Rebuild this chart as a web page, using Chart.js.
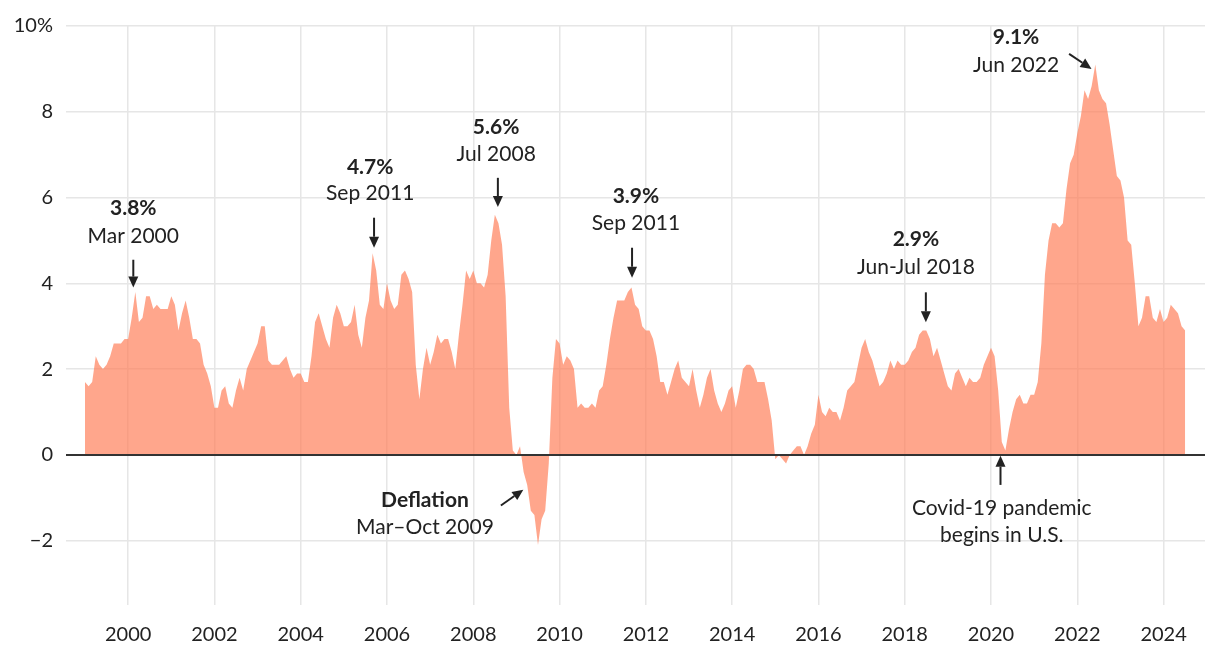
<!DOCTYPE html>
<html>
<head>
<meta charset="utf-8">
<script src="https://cdn.jsdelivr.net/npm/chart.js@4"></script>
<style>
  html, body { margin: 0; padding: 0; background: #ffffff; }
  #wrap { width: 1220px; height: 658px; position: relative; }
</style>
</head>
<body>
<div id="wrap"><canvas id="c" width="1220" height="658"></canvas></div>
<script>
// ---- DATA: US CPI, 12-month % change, monthly, Jan 1999 – Jul 2024 ----
const startYear = 1999;
const cpi1999 = [1.7, 1.6, 1.7, 2.3, 2.1, 2.0, 2.1, 2.3, 2.6, 2.6, 2.6, 2.7];
const cpi2000 = [2.7, 3.2, 3.8, 3.1, 3.2, 3.7, 3.7, 3.4, 3.5, 3.4, 3.4, 3.4];
const cpi2001 = [3.7, 3.5, 2.9, 3.3, 3.6, 3.2, 2.7, 2.7, 2.6, 2.1, 1.9, 1.6];
const cpi2002 = [1.1, 1.1, 1.5, 1.6, 1.2, 1.1, 1.5, 1.8, 1.5, 2.0, 2.2, 2.4];
const cpi2003 = [2.6, 3.0, 3.0, 2.2, 2.1, 2.1, 2.1, 2.2, 2.3, 2.0, 1.8, 1.9];
const cpi2004 = [1.9, 1.7, 1.7, 2.3, 3.1, 3.3, 3.0, 2.7, 2.5, 3.2, 3.5, 3.3];
const cpi2005 = [3.0, 3.0, 3.1, 3.5, 2.8, 2.5, 3.2, 3.6, 4.7, 4.3, 3.5, 3.4];
const cpi2006 = [4.0, 3.6, 3.4, 3.5, 4.2, 4.3, 4.1, 3.8, 2.1, 1.3, 2.0, 2.5];
const cpi2007 = [2.1, 2.4, 2.8, 2.6, 2.7, 2.7, 2.4, 2.0, 2.8, 3.5, 4.3, 4.1];
const cpi2008 = [4.3, 4.0, 4.0, 3.9, 4.2, 5.0, 5.6, 5.4, 4.9, 3.7, 1.1, 0.1];
const cpi2009 = [0.0, 0.2, -0.4, -0.7, -1.3, -1.4, -2.1, -1.5, -1.3, -0.2, 1.8, 2.7];
const cpi2010 = [2.6, 2.1, 2.3, 2.2, 2.0, 1.1, 1.2, 1.1, 1.1, 1.2, 1.1, 1.5];
const cpi2011 = [1.6, 2.1, 2.7, 3.2, 3.6, 3.6, 3.6, 3.8, 3.9, 3.5, 3.4, 3.0];
const cpi2012 = [2.9, 2.9, 2.7, 2.3, 1.7, 1.7, 1.4, 1.7, 2.0, 2.2, 1.8, 1.7];
const cpi2013 = [1.6, 2.0, 1.5, 1.1, 1.4, 1.8, 2.0, 1.5, 1.2, 1.0, 1.2, 1.5];
const cpi2014 = [1.6, 1.1, 1.5, 2.0, 2.1, 2.1, 2.0, 1.7, 1.7, 1.7, 1.3, 0.8];
const cpi2015 = [-0.1, 0.0, -0.1, -0.2, 0.0, 0.1, 0.2, 0.2, 0.0, 0.2, 0.5, 0.7];
const cpi2016 = [1.4, 1.0, 0.9, 1.1, 1.0, 1.0, 0.8, 1.1, 1.5, 1.6, 1.7, 2.1];
const cpi2017 = [2.5, 2.7, 2.4, 2.2, 1.9, 1.6, 1.7, 1.9, 2.2, 2.0, 2.2, 2.1];
const cpi2018 = [2.1, 2.2, 2.4, 2.5, 2.8, 2.9, 2.9, 2.7, 2.3, 2.5, 2.2, 1.9];
const cpi2019 = [1.6, 1.5, 1.9, 2.0, 1.8, 1.6, 1.8, 1.7, 1.7, 1.8, 2.1, 2.3];
const cpi2020 = [2.5, 2.3, 1.5, 0.3, 0.1, 0.6, 1.0, 1.3, 1.4, 1.2, 1.2, 1.4];
const cpi2021 = [1.4, 1.7, 2.6, 4.2, 5.0, 5.4, 5.4, 5.3, 5.4, 6.2, 6.8, 7.0];
const cpi2022 = [7.5, 7.9, 8.5, 8.3, 8.6, 9.1, 8.5, 8.3, 8.2, 7.7, 7.1, 6.5];
const cpi2023 = [6.4, 6.0, 5.0, 4.9, 4.0, 3.0, 3.2, 3.7, 3.7, 3.2, 3.1, 3.4];
const cpi2024 = [3.1, 3.2, 3.5, 3.4, 3.3, 3.0, 2.9];

const xTickValues = [2000, 2002, 2004, 2006, 2008, 2010, 2012, 2014, 2016, 2018, 2020, 2022, 2024];
const yTickValues = [-2, 0, 2, 4, 6, 8, 10];

// annotation texts (bold value, description)
const annoBold = ['3.8%', '4.7%', '5.6%', '3.9%', '2.9%', '9.1%', 'Deflation', ''];
const annoText = [['Mar 2000'], ['Sep 2011'], ['Jul 2008'], ['Sep 2011'], ['Jun-Jul 2018'], ['Jun 2022'], ['Mar\u2013Oct 2009'], ['Covid-19 pandemic', 'begins in U.S.']];

// ---- build series ----
const allYears = [cpi1999, cpi2000, cpi2001, cpi2002, cpi2003, cpi2004, cpi2005, cpi2006, cpi2007,
  cpi2008, cpi2009, cpi2010, cpi2011, cpi2012, cpi2013, cpi2014, cpi2015, cpi2016, cpi2017,
  cpi2018, cpi2019, cpi2020, cpi2021, cpi2022, cpi2023, cpi2024];
const points = [];
allYears.forEach((arr, yi) => arr.forEach((v, m) => points.push({ x: startYear + yi + m / 12, y: v })));

// ---- layout of annotations (positions in data space) ----
const annoLayout = [
  { tx: 2000.12, l1: 5.76, l2: 5.09, arrow: [2000.12, 4.55, 2000.12, 3.90] },
  { tx: 2005.61, l1: 6.71, l2: 6.09, arrow: [2005.70, 5.53, 2005.70, 4.83] },
  { tx: 2008.53, l1: 7.64, l2: 7.02, arrow: [2008.57, 6.46, 2008.57, 5.78] },
  { tx: 2011.77, l1: 6.02, l2: 5.39, arrow: [2011.68, 4.83, 2011.68, 4.13] },
  { tx: 2018.26, l1: 5.02, l2: 4.37, arrow: [2018.49, 3.79, 2018.49, 3.09] },
  { tx: 2020.58, l1: 9.74, l2: 9.09, arrow: [2021.81, 9.35, 2022.33, 9.00] },
  { tx: 2006.88, l1: -1.05, l2: -1.68, arrow: [2008.64, -1.18, 2009.16, -0.81] },
  { tx: 2020.25, l1: -1.24, l2: -1.88, arrow: [2020.22, -0.70, 2020.22, -0.02] }
];

const FONT = 'Lato, "Source Sans Pro", "Noto Sans", sans-serif';
const TEXT = '#222222';

function drawArrow(ctx, x1, y1, x2, y2) {
  const ang = Math.atan2(y2 - y1, x2 - x1);
  const hl = 11, hw = 5;
  const bx = x2 - hl * Math.cos(ang), by = y2 - hl * Math.sin(ang);
  ctx.strokeStyle = TEXT; ctx.fillStyle = TEXT; ctx.lineWidth = 2;
  ctx.beginPath(); ctx.moveTo(x1, y1); ctx.lineTo(bx, by); ctx.stroke();
  ctx.beginPath();
  ctx.moveTo(x2, y2);
  ctx.lineTo(bx + hw * Math.sin(ang), by - hw * Math.cos(ang));
  ctx.lineTo(bx - hw * Math.sin(ang), by + hw * Math.cos(ang));
  ctx.closePath(); ctx.fill();
}

const overlay = {
  id: 'overlay',
  afterDatasetsDraw(chart) {
    const { ctx, scales: { x, y }, chartArea } = chart;
    ctx.save();
    // zero line
    ctx.strokeStyle = '#333333'; ctx.lineWidth = 2;
    const y0 = Math.round(y.getPixelForValue(0));
    ctx.beginPath(); ctx.moveTo(chartArea.left, y0); ctx.lineTo(chartArea.right, y0); ctx.stroke();
    // annotations
    ctx.textAlign = 'center'; ctx.textBaseline = 'middle'; ctx.fillStyle = TEXT;
    annoLayout.forEach((a, i) => {
      const tx = x.getPixelForValue(a.tx);
      const lines = [];
      if (annoBold[i]) lines.push({ t: annoBold[i], b: true });
      annoText[i].forEach(t => lines.push({ t, b: false }));
      const ys = [a.l1, a.l2];
      lines.forEach((ln, k) => {
        ctx.font = (ln.b ? 'bold ' : '') + '21px ' + FONT;
        ctx.fillStyle = TEXT;
        ctx.fillText(ln.t, tx, y.getPixelForValue(ys[k]));
      });
      const [ax1, ay1, ax2, ay2] = a.arrow;
      drawArrow(ctx, x.getPixelForValue(ax1), y.getPixelForValue(ay1), x.getPixelForValue(ax2), y.getPixelForValue(ay2));
    });
    ctx.restore();
  }
};

new Chart(document.getElementById('c'), {
  type: 'line',
  data: {
    datasets: [{
      data: points,
      fill: 'origin',
      backgroundColor: 'rgba(255, 124, 85, 0.68)',
      borderWidth: 0,
      borderColor: 'rgba(0,0,0,0)',
      pointRadius: 0,
      tension: 0
    }]
  },
  options: {
    responsive: false,
    animation: false,
    events: [],
    layout: { padding: { top: 26, right: 15, left: 0, bottom: 0 } },
    plugins: { legend: { display: false }, tooltip: { enabled: false }, title: { display: false } },
    scales: {
      x: {
        type: 'linear',
        min: 1998.56,
        max: 2024.96,
        afterBuildTicks: s => { s.ticks = xTickValues.map(v => ({ value: v })); },
        afterFit: s => { s.height = 53; },
        grid: { color: '#e6e6e6', lineWidth: 1.5, drawTicks: false },
        border: { display: false },
        ticks: {
          padding: 18,
          color: TEXT,
          font: { family: FONT, size: 20 },
          maxRotation: 0,
          callback: v => String(v)
        }
      },
      y: {
        type: 'linear',
        min: -3.5,
        max: 10,
        afterBuildTicks: s => { s.ticks = yTickValues.map(v => ({ value: v })); },
        afterFit: s => { s.width = 66; },
        grid: { color: '#e6e6e6', lineWidth: 1.5, drawTicks: false },
        border: { display: false },
        ticks: {
          padding: 13,
          color: TEXT,
          font: { family: FONT, size: 20 },
          callback: v => v === 10 ? '10%' : (v < 0 ? '\u2212' + Math.abs(v) : String(v))
        }
      }
    }
  },
  plugins: [overlay]
});
</script>
</body>
</html>
